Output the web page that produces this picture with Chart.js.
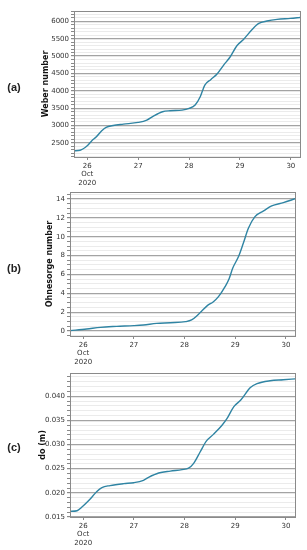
<!DOCTYPE html>
<html>
<head>
<meta charset="utf-8">
<script src="https://cdn.jsdelivr.net/npm/chart.js@4"></script>
<style>
  body { margin: 0; background: #fff; }
  #wrap { position: relative; width: 307px; height: 550px; overflow: hidden; }
  canvas { position: absolute; left: 0; }
  .lbl { position: absolute; font: bold 11px "Liberation Sans", Arial, sans-serif; color: #222; transform: translate(-50%, -50%); }
</style>
</head>
<body>
<div id="wrap">
  <canvas id="chartA" width="307" height="185" style="top:0"></canvas>
  <canvas id="chartB" width="307" height="180" style="top:185px"></canvas>
  <canvas id="chartC" width="307" height="185" style="top:365px"></canvas>
  <div class="lbl" style="left:14px;top:87px">(a)</div>
  <div class="lbl" style="left:14px;top:268px">(b)</div>
  <div class="lbl" style="left:14px;top:447px">(c)</div>
</div>
<script>
// day of October 2020 (fractional)
const weberDays = [25.74, 25.86, 26.0, 26.09, 26.18, 26.28, 26.37, 26.51, 26.71, 27.0, 27.17, 27.3, 27.48, 27.63, 27.86, 28.0, 28.12, 28.22, 28.31, 28.43, 28.55, 28.68, 28.81, 28.94, 29.07, 29.24, 29.37, 29.53, 29.73, 29.99, 30.19];
const weberValues = [2270, 2285, 2413, 2558, 2673, 2837, 2942, 3000, 3038, 3087, 3154, 3270, 3394, 3423, 3442, 3490, 3587, 3827, 4163, 4327, 4481, 4740, 4981, 5298, 5481, 5769, 5942, 6010, 6058, 6087, 6115];

const ohnDays = [25.74, 26.07, 26.34, 26.66, 27.0, 27.19, 27.45, 27.72, 28.02, 28.14, 28.24, 28.34, 28.45, 28.57, 28.67, 28.8, 28.88, 28.95, 29.07, 29.16, 29.26, 29.39, 29.56, 29.72, 29.95, 30.19];
const ohnValues = [0.04, 0.21, 0.39, 0.49, 0.57, 0.64, 0.81, 0.88, 0.99, 1.17, 1.59, 2.12, 2.69, 3.11, 3.64, 4.7, 5.55, 6.65, 7.95, 9.3, 10.89, 12.13, 12.73, 13.26, 13.61, 14.03];

const doDays = [25.74, 25.88, 25.97, 26.09, 26.17, 26.27, 26.37, 26.53, 26.8, 27.0, 27.19, 27.29, 27.49, 27.72, 27.95, 28.08, 28.18, 28.31, 28.43, 28.57, 28.74, 28.84, 28.97, 29.11, 29.3, 29.43, 29.69, 29.95, 30.19];
const doValues = [0.01617, 0.0163, 0.017, 0.0182, 0.0191, 0.0203, 0.0211, 0.0215, 0.0219, 0.0221, 0.0226, 0.0232, 0.0241, 0.0245, 0.0248, 0.0251, 0.0261, 0.0285, 0.0307, 0.0321, 0.034, 0.0354, 0.0378, 0.0392, 0.0418, 0.0426, 0.0432, 0.0434, 0.0436];

const xTickLabels = {26: ['26', 'Oct', '2020'], 27: '27', 28: '28', 29: '29', 30: '30'};

const lineColor = '#2f84a3';
const tickFont = { family: 'DejaVu Sans', size: 7, lineHeight: 1.2 };

const boxPlugin = {
  id: 'box',
  afterDraw(chart) {
    const a = chart.chartArea, c = chart.ctx;
    c.save();
    c.strokeStyle = '#8a8a8a';
    c.lineWidth = 1;
    c.strokeRect(Math.round(a.left) + 0.5, Math.round(a.top) + 0.5, Math.round(a.right - a.left), Math.round(a.bottom - a.top));
    c.restore();
  }
};

function isMajor(v, step) {
  return Math.abs(v / step - Math.round(v / step)) < 1e-6;
}

// minor ticks on every multiple of `step` inside [min, max]
function stepTicks(min, max, step) {
  const t = [];
  for (let k = Math.ceil(min / step - 1e-9); k * step <= max + 1e-12; k++) {
    t.push({ value: +(k * step).toFixed(6) });
  }
  return t;
}

function makeChart(id, days, values, cfg) {
  new Chart(document.getElementById(id), {
    type: 'line',
    data: {
      datasets: [{
        data: days.map((d, i) => ({ x: d, y: values[i] })),
        borderColor: lineColor,
        borderWidth: 1.4,
        pointRadius: 0,
        cubicInterpolationMode: 'monotone',
        fill: false
      }]
    },
    options: {
      responsive: false,
      animation: false,
      layout: { padding: cfg.padding },
      plugins: { legend: { display: false }, tooltip: { enabled: false } },
      scales: {
        x: {
          type: 'linear',
          min: 25.74,
          max: 30.18,
          afterFit: s => { s.height = cfg.xHeight; },
          afterBuildTicks: s => { s.ticks = stepTicks(s.min, s.max, 1); },
          grid: { drawOnChartArea: false, tickLength: 3, color: '#8a8a8a' },
          border: { color: '#8a8a8a' },
          ticks: {
            autoSkip: false,
            maxRotation: 0,
            padding: 2,
            color: '#333',
            font: tickFont,
            callback: v => xTickLabels[v] !== undefined ? xTickLabels[v] : ''
          }
        },
        y: {
          min: cfg.yMin,
          max: cfg.yMax,
          afterFit: s => { s.width = cfg.yWidth; },
          afterBuildTicks: s => { s.ticks = stepTicks(cfg.yMin, cfg.yMax, cfg.minor); },
          grid: {
            tickLength: 3,
            color: ctx => isMajor(ctx.tick.value, cfg.major) ? '#a3a3a3' : '#ebebeb',
            lineWidth: ctx => isMajor(ctx.tick.value, cfg.major) ? 1.2 : 1,
            tickColor: '#8a8a8a'
          },
          border: { color: '#8a8a8a' },
          title: {
            display: true,
            text: cfg.title,
            color: '#111',
            font: { family: 'DejaVu Sans', size: 8, weight: 'bold' },
            padding: { top: 5, bottom: 0 }
          },
          ticks: {
            autoSkip: false,
            padding: 2,
            color: '#333',
            font: tickFont,
            callback: v => isMajor(v, cfg.major) ? cfg.fmt(v) : ''
          }
        }
      }
    },
    plugins: [boxPlugin]
  });
}

makeChart('chartA', weberDays, weberValues, {
  padding: { left: 36, top: 11, right: 7, bottom: 0 },
  yWidth: 38, xHeight: 28,
  yMin: 2090, yMax: 6300, major: 500, minor: 100,
  title: 'Weber number',
  fmt: v => String(Math.round(v))
});

makeChart('chartB', ohnDays, ohnValues, {
  padding: { left: 40, top: 7, right: 12, bottom: 0 },
  yWidth: 30, xHeight: 29,
  yMin: -0.53, yMax: 14.74, major: 2, minor: 0.5,
  title: 'Ohnesorge number',
  fmt: v => String(Math.round(v))
});

makeChart('chartC', doDays, doValues, {
  padding: { left: 33, top: 8, right: 12, bottom: 0 },
  yWidth: 37, xHeight: 33,
  yMin: 0.015, yMax: 0.0448, major: 0.005, minor: 0.001,
  title: 'do (m)',
  fmt: v => v.toFixed(3)
});
</script>
</body>
</html>
